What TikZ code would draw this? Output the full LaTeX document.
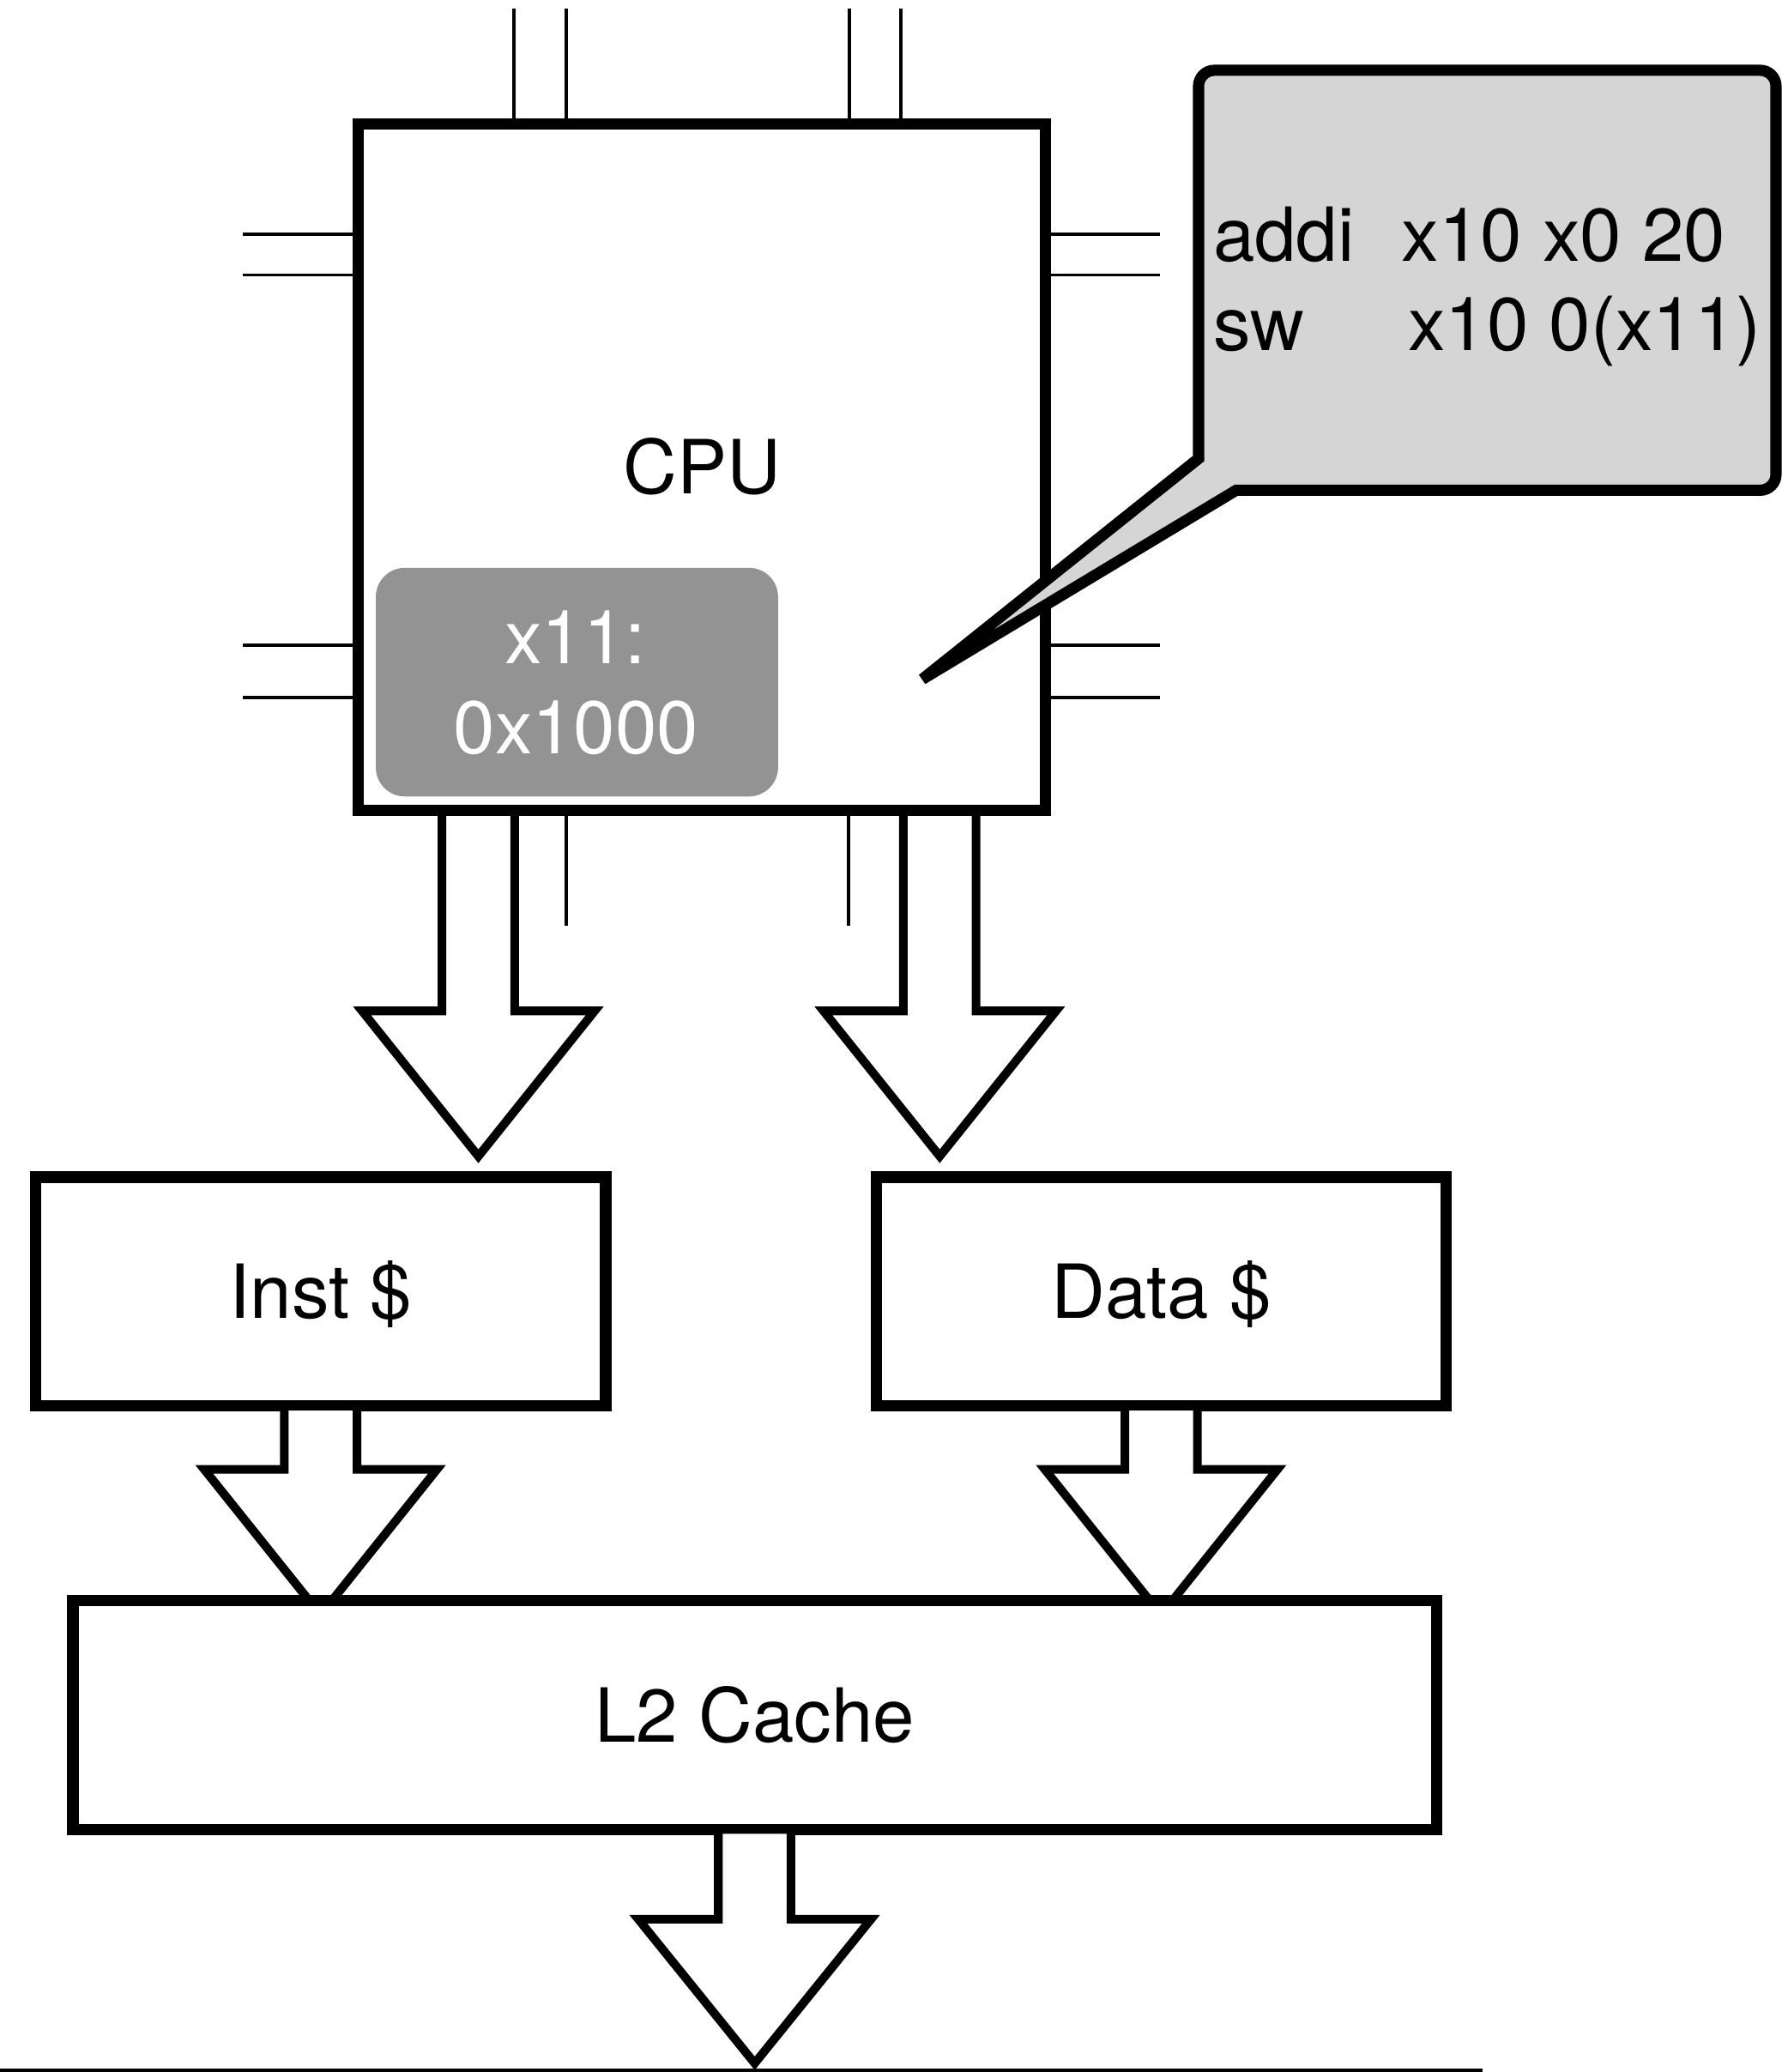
\documentclass[tikz,border=0pt]{standalone}
\usepackage{fontspec}
\setmainfont{TeX Gyre Heros}
\definecolor{regfill}{HTML}{939393}
\definecolor{notefill}{HTML}{D5D5D5}
\newcommand\diagfont{\fontsize{56.5bp}{68bp}\selectfont}
% hollow block arrow: #1 top-centre coordinate, #2 shaft length, #3 head length, #4 name for the tip
\newcommand\blockarrow[4]{%
  \draw[hollow arrow] (#1) ++(-27.5,0) -- ++(0,#2) -- ++(-60.5,0)
    -- ++(88,#3) coordinate (#4) -- ++(88,-#3) -- ++(-60.5,0) -- ++(0,-#2) -- cycle;}

\begin{document}
\begin{tikzpicture}[x=1bp, y=-1bp,
  unitbox/.style={draw, fill=white, line width=8.5bp, inner sep=0pt, outer sep=0pt,
    font=\diagfont, text height=40.5bp, text depth=0pt},
  pinline/.style={line width=2.5bp},
  hollow arrow/.style={draw, fill=white, line width=6.5bp},
  notebubble/.style={draw, fill=notefill, line width=8.5bp},
  codetext/.style={inner sep=0pt, font=\diagfont},
  regtext/.style={inner sep=0pt, font=\diagfont, text=white},
  floorline/.style={line width=2.5bp}]

\useasboundingbox (0,0) rectangle (1348,1568);

% the processor package with its pins
\path (531.15,353.3) node[unitbox, minimum width=519.7bp, minimum height=519.4bp] (cpu) {};
\foreach \x in {389,428.6,642.7,682}
  \draw[pinline] (\x,6.5) -- (\x,0 |- cpu.north);
\foreach \x in {428.6,642}
  \draw[pinline] (\x,0 |- cpu.south) -- (\x,700.4);
\foreach \y in {177.3,208.1,488.4,527.9} {
  \draw[pinline] (183.8,\y) -- (cpu.west |- 0,\y);
  \draw[pinline] (cpu.east |- 0,\y) -- (878,\y);
}

% first-level caches and the L2
\node[unitbox, minimum width=431.5bp, minimum height=173.2bp] (inst) at (242.6,977.4) {Inst \$};
\node[unitbox, minimum width=431.5bp, minimum height=173.2bp] (data) at (878.7,977.4) {Data \$};

% block arrows between the levels
\coordinate (cpuI) at ([xshift=-169.15bp]cpu.south);
\coordinate (cpuD) at ([xshift=180bp]cpu.south);
\blockarrow{cpuI}{152}{110}{tipI}
\blockarrow{cpuD}{152}{110}{tipD}
\blockarrow{inst.south}{48}{110}{tipIL}
\blockarrow{data.south}{48}{110}{tipDL}

\node[unitbox, minimum width=1031.8bp, minimum height=173.2bp] (l2) at (571.1,1297.8) {L2 Cache};
\blockarrow{l2.south}{68}{109}{tipMem}

% redraw the processor on top of the arrow shafts
\node[unitbox, minimum width=519.7bp, minimum height=519.4bp] (cpubody) at (cpu) {CPU};

% register contents
\node[fill=regfill, rounded corners=22bp, inner sep=0pt, minimum width=304.4bp, minimum height=173bp] (reg) at (436.6,516.2) {};
\node[regtext, anchor=base] (regname) at (435.3,502) {x11:};
\node[regtext, anchor=base] (regval) at (435.9,570.3) {0x1000};

% speech bubble with the program
\draw[notebubble] (907,347) -- (907,65.2) arc[start angle=180, end angle=270, radius=12]
  -- (1332,53.2) arc[start angle=270, end angle=360, radius=12]
  -- (1344,359) arc[start angle=0, end angle=90, radius=12]
  -- (935.5,371) -- (698,514) -- cycle;
\node[codetext, anchor=base west] (op1) at (918,198) {addi};
\node[codetext, anchor=base west] (args1) at (1060.5,198) {x10 x0 20};
\node[codetext, anchor=base west] (op2) at (918,265.5) {sw};
\node[codetext, anchor=base west] (args2) at (1065.5,265.5) {x10 0(x11)};

% memory bus line
\coordinate (floorL) at (0,1566.8);
\coordinate (floorR) at (1122,1566.8);
\draw[floorline] (floorL) -- (floorR);
\end{tikzpicture}
\end{document}
